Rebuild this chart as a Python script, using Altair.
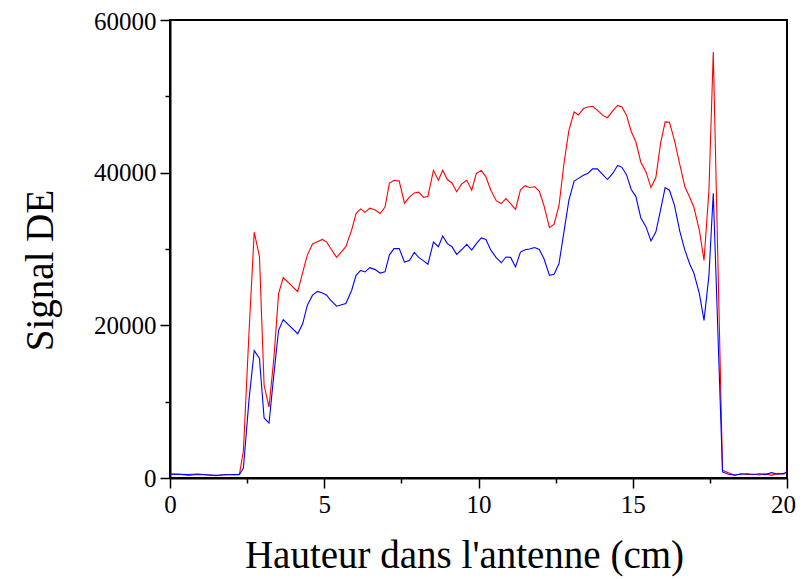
import altair as alt
import pandas as pd

x_cm = [0.0, 0.3, 0.6, 0.9, 1.2, 1.5, 1.8, 2.1, 2.25, 2.38, 2.56, 2.73, 2.9, 3.05, 3.21, 3.37,
        3.52, 3.67, 4.14, 4.3, 4.45, 4.62, 4.78, 4.94, 5.08, 5.19, 5.4, 5.7, 5.89, 6.03, 6.18,
        6.32, 6.48, 6.65, 6.81, 6.97, 7.11, 7.26, 7.43, 7.6, 7.76, 7.92, 8.06, 8.22, 8.36, 8.54,
        8.7, 8.84, 8.99, 9.14, 9.29, 9.45, 9.62, 9.78, 9.93, 10.09, 10.24, 10.4, 10.58, 10.74,
        10.89, 11.04, 11.2, 11.36, 11.51, 11.65, 11.82, 11.97, 12.12, 12.3, 12.45, 12.61, 12.77,
        12.93, 13.1, 13.24, 13.4, 13.54, 13.7, 13.85, 14.03, 14.18, 14.35, 14.51, 14.65, 14.8,
        14.95, 15.1, 15.26, 15.43, 15.59, 15.75, 15.9, 16.05, 16.19, 16.35, 16.53, 16.69, 16.85,
        16.98, 17.16, 17.31, 17.47, 17.61, 17.91, 18.1, 18.3, 18.5, 18.7, 18.9, 19.1, 19.3,
        19.5, 19.7, 19.9, 20.0]

red_signal = [550, 500, 350, 450, 400, 300, 450, 400, 450, 3600, 19000, 32200, 29000, 12150,
              9300, 15850, 24150, 26250, 24400, 26900, 29200, 30650, 30950, 31250, 30900, 30200,
              28900, 30300, 32500, 34650, 35250, 34800, 35350, 35100, 34650, 35500, 38600, 39000,
              38900, 36000, 36800, 37350, 37450, 36750, 36900, 40300, 39000, 40300, 39100, 38650,
              37500, 38500, 39000, 37700, 39900, 40300, 39450, 37700, 36300, 35950, 36600, 35950,
              35200, 37750, 38300, 38050, 38150, 37600, 35700, 32800, 33250, 35700, 41200, 45550,
              47950, 47550, 48400, 48600, 48700, 48200, 47500, 47200, 48100, 48800, 48600, 47500,
              45400, 44050, 41400, 40100, 38050, 39400, 43800, 46650, 46600, 44250, 41000, 38150,
              36750, 35500, 32450, 28500, 37700, 55800, 1000, 700, 350, 550, 450, 500, 400, 550,
              350, 600, 500, 900]

blue_signal = [500, 480, 450, 520, 430, 350, 420, 450, 450, 1300, 10200, 16700, 15650, 7860,
               7200, 13700, 19350, 20750, 18900, 20200, 22600, 23950, 24450, 24250, 23950, 23350,
               22500, 22850, 24600, 26550, 27200, 27000, 27550, 27300, 26850, 27000, 29200, 30050,
               30050, 28300, 28500, 29550, 28900, 28450, 28000, 30900, 30300, 31700, 30700, 30300,
               29300, 29900, 30600, 29850, 30700, 31450, 31250, 29850, 28850, 28200, 28950, 28900,
               27650, 29600, 29900, 30000, 30200, 29950, 28750, 26550, 26700, 28100, 32250, 36400,
               38900, 39250, 39650, 39900, 40500, 40500, 39750, 39100, 39900, 40950, 40700, 39700,
               37800, 36900, 34100, 32900, 31050, 32250, 35100, 38050, 37700, 35750, 32250, 29850,
               28000, 26850, 24150, 20650, 26550, 37300, 800, 500, 400, 500, 550, 450, 550, 450,
               700, 500, 600, 800]

x_ticks = [0, 2.5, 5, 7.5, 10, 12.5, 15, 17.5, 20]
y_ticks = [0, 10000, 20000, 30000, 40000, 50000, 60000]

df = pd.DataFrame({"x": x_cm, "rouge": red_signal, "bleu": blue_signal})
long = df.melt(id_vars="x", var_name="serie", value_name="signal")

FONT = "Liberation Serif"

chart = alt.Chart(long).mark_line(strokeWidth=1.1, clip=True).encode(
    x=alt.X("x:Q",
            scale=alt.Scale(domain=[0, 20], nice=False, zero=False),
            axis=alt.Axis(
                values=x_ticks,
                labelFlush=False,
                labelExpr="datum.value % 5 === 0 ? datum.label : ''",
                labelOffset={"condition": {"test": "datum.value === 20", "value": -4}, "value": 0},
                tickSize={"condition": {"test": "datum.value % 5 === 0", "value": 10}, "value": 5},
                title="Hauteur dans l'antenne (cm)",
                titleX=294, titleY=77, titleBaseline="middle", titleAlign="center",
            )),
    y=alt.Y("signal:Q",
            scale=alt.Scale(domain=[0, 60000], nice=False),
            axis=alt.Axis(
                values=y_ticks,
                format="d",
                labelFlush=False,
                labelExpr="datum.value % 20000 === 0 ? datum.label : ''",
                labelOffset={"condition": {"test": "datum.value === 60000", "value": 1}, "value": 0},
                tickSize={"condition": {"test": "datum.value % 20000 === 0", "value": 10}, "value": 5},
                title="Signal DE",
                titleX=-130, titleY=250, titleBaseline="middle", titleAlign="center", titleAngle=270,
            )),
    color=alt.Color("serie:N",
                    scale=alt.Scale(domain=["rouge", "bleu"], range=["#ff0000", "#0000ff"]),
                    legend=None),
    detail="serie:N",
).properties(
    width=617,
    height=458,
    background="white",
    autosize=alt.AutoSizeParams(type="none"),
    padding={"left": 162, "top": 12, "right": 9, "bottom": 100},
).configure_view(
    stroke="black", strokeWidth=2, fill="white"
).configure_axis(
    grid=False,
    domainColor="black", domainWidth=2,
    tickColor="black", tickWidth=1.5,
    labelFont=FONT, labelFontSize=25, labelColor="black", labelPadding=4,
    titleFont=FONT, titleFontSize=39, titleFontWeight="normal", titleColor="black",
)

chart.save("out.html", embed_options={"renderer": "svg", "actions": False})
